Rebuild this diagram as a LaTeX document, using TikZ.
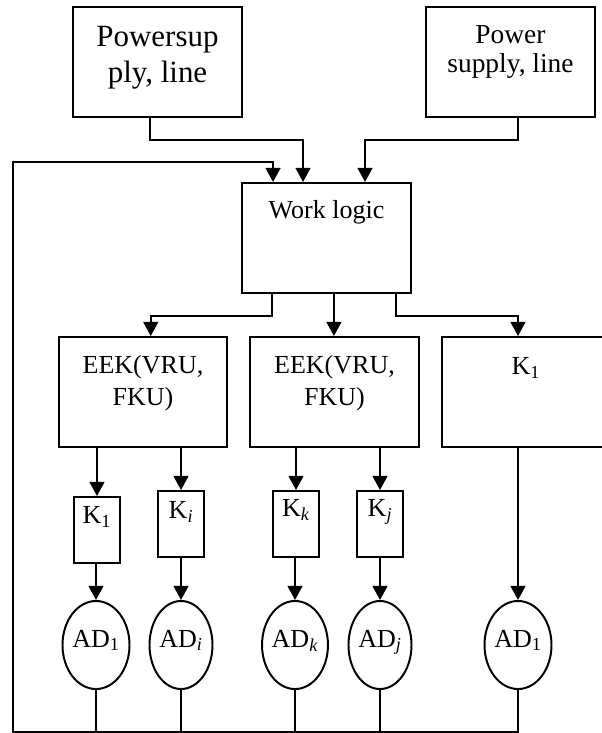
\documentclass[tikz,border=0pt]{standalone}
\usepackage{fontspec}
\setmainfont{Liberation Serif}
\usetikzlibrary{arrows.meta,shapes.geometric}

\newcommand{\mfont}{\fontsize{18.5}{22.8}\selectfont}
\tikzset{
    blk/.style={draw, line width=1.4pt, inner sep=0pt},
    bigbox/.style={blk, minimum width=4.2cm, minimum height=2.75cm},
    kbox/.style={blk, minimum width=1.15cm, minimum height=1.65cm},
    toptxt/.style={anchor=north, inner sep=0pt, align=center},
    adnode/.style={draw, ellipse, line width=1.4pt, inner sep=0pt,
        text height=14pt, text depth=11pt,
        minimum width=1.575cm, minimum height=2.2cm},
    arr/.style={line width=1.4pt, -{Triangle[length=10pt,width=10.5pt]}},
    ln/.style={line width=1.4pt},
}

\begin{document}
\begin{tikzpicture}[x=0.025cm, y=-0.025cm, font=\mfont]
    \useasboundingbox (0,0) rectangle (601,733);

    % supplies
    \node[bigbox, minimum width=4.225cm,
          label={[toptxt, name=ps1txt, yshift=-14pt, font=\fontsize{22}{25.6}\selectfont]north:Powersup\\ply, line}] (ps1) at (157.5,62) {};
    \node[bigbox, minimum width=4.225cm,
          label={[toptxt, name=ps2txt, yshift=-13.5pt, font=\fontsize{19.5}{20.6}\selectfont]north:Power\\supply, line}] (ps2) at (510.5,62) {};

    % logic and control units
    \node[bigbox, minimum width=4.225cm,
          label={[toptxt, name=wltxt, yshift=-13pt]north:Work logic}] (wl) at (326.5,238) {};
    \node[bigbox, label={[toptxt, name=eekatxt, yshift=-13.5pt]north:EEK(VRU,\\FKU)}] (eeka) at (143,392) {};
    \node[bigbox, label={[toptxt, name=eekbtxt, yshift=-13.5pt]north:EEK(VRU,\\FKU)}] (eekb) at (334.5,392) {};
    \node[bigbox, label={[toptxt, name=kctxt, yshift=-15pt]north:K\textsubscript{1}}] (kc) at (526,392) {};

    % switches
    \node[kbox, label={[toptxt, name=k1txt, yshift=-7.5pt]north:K\textsubscript{1}}] (k1) at (97,530) {};
    \node[kbox, label={[toptxt, name=kitxt, yshift=-8pt]north:K\textsubscript{\textit{i}}}] (ki) at (181,524) {};
    \node[kbox, label={[toptxt, name=kktxt, yshift=-6.5pt]north:K\textsubscript{\textit{k}}}] (kk) at (296,524) {};
    \node[kbox, label={[toptxt, name=kjtxt, yshift=-6.5pt]north:K\textsubscript{\textit{j}}}] (kj) at (380,524) {};

    % drives
    \node[adnode] (adone) at (96,645) {AD\textsubscript{1}};
    \node[adnode] (adi) at (181,645) {AD\textsubscript{\textit{i}}};
    \node[adnode] (adk) at (295,645) {AD\textsubscript{\textit{k}}};
    \node[adnode] (adj) at (380,645) {AD\textsubscript{\textit{j}}};
    \node[adnode] (adr) at (518,645) {AD\textsubscript{1}};

    \coordinate (fb) at (12.7,732);
    \coordinate (fbtop) at (12.7,161.7);

    % inputs of the work logic
    \draw[arr] ([xshift=-5.3pt]ps1.south) -- ++(0,22) -| ([xshift=-16.7pt]wl.north);
    \draw[arr] ([xshift=5.3pt]ps2.south) -- ++(0,22) -| ([xshift=27.4pt]wl.north);
    \draw[arr] (adr.south) |- (fb) -- (fbtop) -| ([xshift=-38pt]wl.north);
    \foreach \a in {adone, adi, adk, adj}
        \draw[ln] (\a.south) -- (\a.south |- fb);

    % outputs
    \draw[arr] ([xshift=-38.8pt]wl.south) -- ++(0,22) -| ([xshift=5.5pt]eeka.north);
    \draw[arr] ([xshift=5.3pt]wl.south) -- ([xshift=5.3pt]wl.south |- eekb.north);
    \draw[arr] ([xshift=49.4pt]wl.south) -- ++(0,22) -| ([xshift=-5.7pt]kc.north);

    \foreach \src/\k in {eeka/k1, eeka/ki, eekb/kk, eekb/kj}
        \draw[arr] (\k.north |- \src.south) -- (\k.north);
    \draw[arr] (adr.north |- kc.south) -- (adr.north);
    \foreach \k/\a in {k1/adone, ki/adi, kk/adk, kj/adj}
        \draw[arr] (\a.north |- \k.south) -- (\a.north);
\end{tikzpicture}
\end{document}
